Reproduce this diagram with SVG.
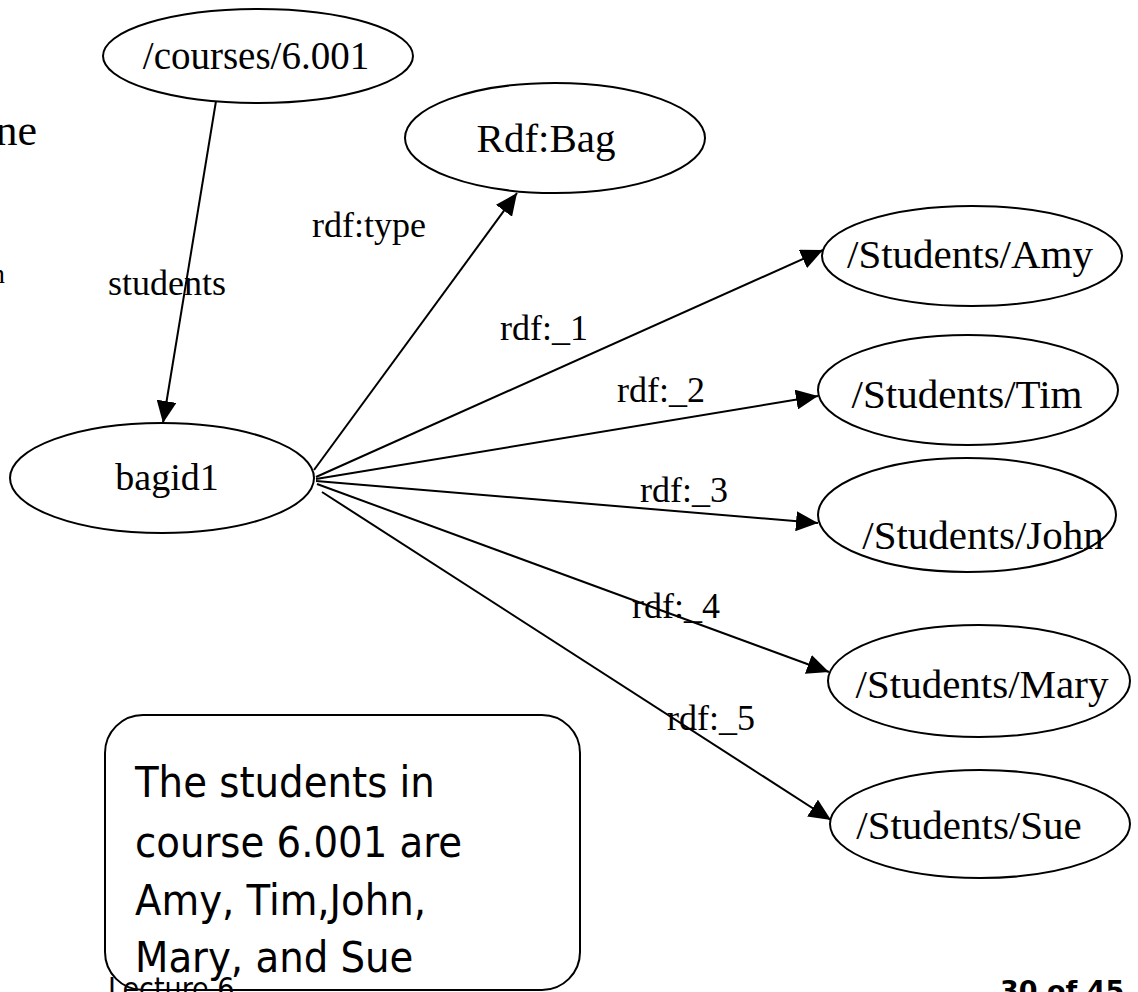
<svg xmlns="http://www.w3.org/2000/svg" width="1138" height="992" viewBox="0 0 1138 992">
<style>
.node ellipse{fill:#fff;stroke:#000;stroke-width:2}
.nt{font-family:"Liberation Serif","Times New Roman",serif;font-size:41px;fill:#000;text-anchor:middle}
.el{font-family:"Liberation Serif","Times New Roman",serif;font-size:36px;fill:#000}
.edge line{stroke:#000;stroke-width:2;marker-end:url(#ah)}
.note{font-family:"DejaVu Sans Condensed","DejaVu Sans",sans-serif;font-stretch:condensed;font-size:43px;fill:#000}
</style>
<defs>
<marker id="ah" markerUnits="userSpaceOnUse" markerWidth="24" markerHeight="20" refX="22" refY="10" orient="auto">
<path d="M0,0 L22,10 L0,20 Z" fill="#000"/>
</marker>
</defs>
<rect width="1138" height="992" fill="#fff"/>
<text x="37" y="145" font-family="Liberation Serif,serif" font-size="44" text-anchor="end">ne</text>
<text x="5" y="283" font-family="Liberation Serif,serif" font-size="28" text-anchor="end">n</text>
<g id="connectors" class="edge">
<line x1="216" y1="101" x2="163" y2="423"/>
<line x1="314" y1="470" x2="517" y2="193"/>
<line x1="316" y1="477" x2="823" y2="250"/>
<line x1="316" y1="479" x2="818" y2="396"/>
<line x1="316" y1="481" x2="818" y2="523"/>
<line x1="317" y1="484" x2="829" y2="672"/>
<line x1="322" y1="492" x2="831" y2="820"/>
</g>
<g id="edge-labels">
<text class="el" x="108" y="295">students</text>
<text class="el" x="312" y="237">rdf:type</text>
<text class="el" x="500" y="340">rdf:_1</text>
<text class="el" x="617" y="402">rdf:_2</text>
<text class="el" x="640" y="502">rdf:_3</text>
<text class="el" x="632" y="618">rdf:_4</text>
<text class="el" x="667" y="730">rdf:_5</text>
</g>
<g id="n-courses" class="node"><ellipse cx="258" cy="56" rx="155" ry="47"/><text class="nt" x="256" y="69" style="font-size:39px">/courses/6.001</text></g>
<g id="n-bag" class="node"><ellipse cx="555" cy="138" rx="150" ry="55"/><text class="nt" x="546" y="152">Rdf:Bag</text></g>
<g id="n-bagid1" class="node"><ellipse cx="162" cy="478" rx="152" ry="55"/><text class="nt" x="167" y="490" style="font-size:38px">bagid1</text></g>
<g id="n-amy" class="node"><ellipse cx="972" cy="256" rx="150" ry="50"/><text class="nt" x="970" y="268">/Students/Amy</text></g>
<g id="n-tim" class="node"><ellipse cx="968" cy="390" rx="150" ry="55"/><text class="nt" x="967" y="408">/Students/Tim</text></g>
<g id="n-john" class="node"><ellipse cx="967" cy="515" rx="149" ry="57"/><text class="nt" x="983" y="549">/Students/John</text></g>
<g id="n-mary" class="node"><ellipse cx="979" cy="681" rx="151" ry="56"/><text class="nt" x="982" y="698">/Students/Mary</text></g>
<g id="n-sue" class="node"><ellipse cx="980" cy="824" rx="150" ry="54"/><text class="nt" x="969" y="839">/Students/Sue</text></g>
<g id="n-note">
<rect x="105" y="715" width="475" height="275" rx="38" ry="38" fill="#fff" stroke="#000" stroke-width="2"/>
<text class="note" x="135" y="797">The students in</text>
<text class="note" x="135" y="857">course 6.001 are</text>
<text class="note" x="135" y="915">Amy, Tim,John,</text>
<text class="note" x="135" y="972">Mary, and Sue</text>
</g>
<text x="108" y="999" font-family="DejaVu Sans Condensed,DejaVu Sans,sans-serif" font-stretch="condensed" font-size="30">Lecture 6</text>
<text x="1000" y="1000" font-family="DejaVu Sans,sans-serif" font-weight="bold" font-size="27">30 of 45</text>
</svg>
